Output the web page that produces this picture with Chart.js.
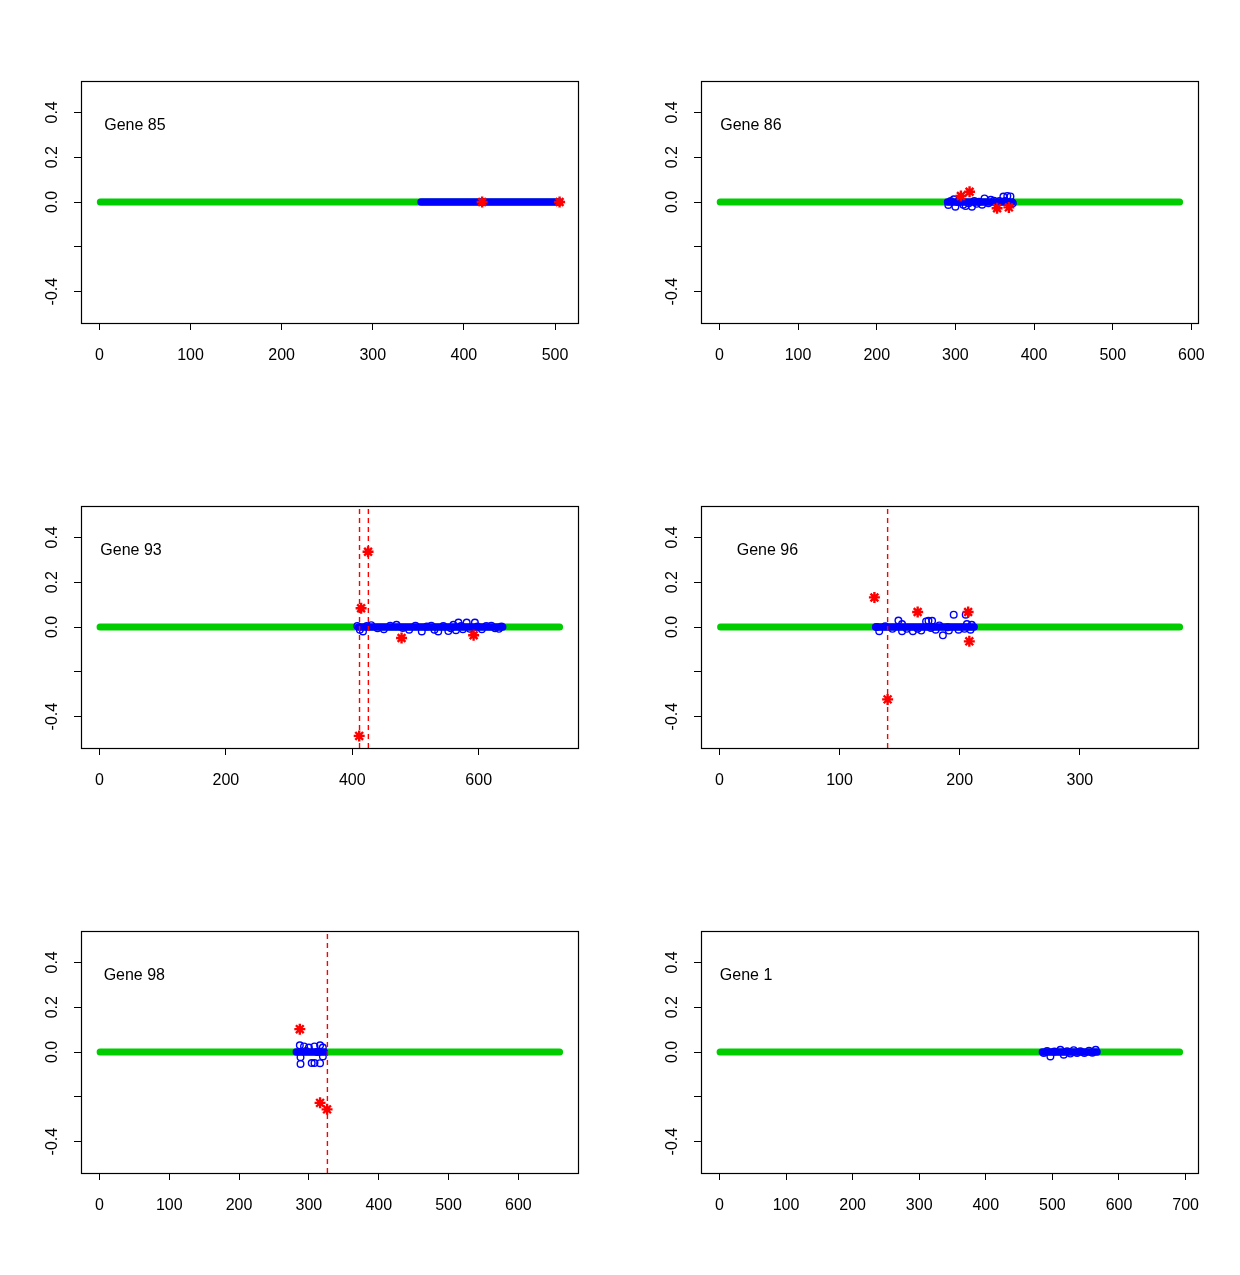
<!DOCTYPE html>
<html>
<head>
<meta charset="utf-8">
<script src="https://cdn.jsdelivr.net/npm/chart.js@4.4.1/dist/chart.umd.min.js"></script>
<style>
  html, body { margin: 0; padding: 0; background: #ffffff; }
  body { width: 1240px; height: 1275px; position: relative; overflow: hidden; }
  .panel { position: absolute; width: 620px; height: 425px; }
  canvas { display: block; }
</style>
</head>
<body>
<div id="wrap"></div>
<script>
// ---------------- DATA ----------------
const geneNames   = ['Gene 85', 'Gene 86', 'Gene 93', 'Gene 96', 'Gene 98', 'Gene 1'];
const geneLengths = [505, 585, 728, 383, 659, 691];

const xTicks85 = [0, 100, 200, 300, 400, 500];
const xTicks86 = [0, 100, 200, 300, 400, 500, 600];
const xTicks93 = [0, 200, 400, 600];
const xTicks96 = [0, 100, 200, 300];
const xTicks98 = [0, 100, 200, 300, 400, 500, 600];
const xTicks1  = [0, 100, 200, 300, 400, 500, 600, 700];

const yTicks      = [-0.4, -0.2, 0.0, 0.2, 0.4];
const yTickLabels = ['-0.4', '', '0.0', '0.2', '0.4'];

// green = whole gene (start, end); blue = covered region (start, end)
const greenRanges = [[1, 505], [1, 585], [1, 728], [1, 383], [1, 659], [1, 691]];
const blueRanges  = [[353, 505], [290, 372], [410, 638], [130, 212], [282, 322], [485, 567]];

// blue open circles (position, value)
const blue85 = [];
const blue86 = [[291, -0.013], [294, 0.004], [298, 0.012], [300, -0.021], [303, 0.0], [306, 0.006],
                [310, -0.012], [313, -0.018], [317, -0.006], [321, -0.021], [324, 0.004], [327, -0.008],
                [330, 0.001], [334, -0.012], [337, 0.016], [342, -0.006], [345, 0.01], [349, 0.006],
                [356, 0.004], [361, 0.024], [363, 0.004], [366, 0.027], [370, 0.025], [373, -0.006]];
const blue93 = [[408, 0.005], [412, -0.012], [417, -0.02], [423, 0.004], [430, 0.008], [440, -0.006],
                [450, -0.01], [460, 0.006], [470, 0.01], [480, -0.004], [490, -0.012], [500, 0.006],
                [510, -0.02], [518, 0.002], [525, 0.006], [530, -0.012], [536, -0.02], [544, 0.004],
                [552, -0.018], [556, -0.006], [560, 0.01], [564, -0.014], [568, 0.02], [572, 0.004],
                [575, -0.01], [581, 0.02], [586, -0.008], [594, 0.02], [598, 0.002], [605, -0.01],
                [612, 0.004], [620, 0.006], [626, -0.006], [632, -0.008], [636, 0.002]];
const blue96 = [[131, 0.0], [133, -0.019], [138, 0.003], [144, -0.008], [149, 0.029], [152, 0.013],
                [152, -0.019], [156, -0.008], [161, -0.019], [165, -0.008], [168, -0.016], [172, 0.025],
                [174, 0.028], [176, -0.004], [177, 0.028], [180, -0.012], [183, 0.007], [186, -0.037],
                [190, -0.001], [191, -0.016], [195, 0.055], [199, -0.012], [204, -0.008], [205, 0.055],
                [206, 0.013], [209, -0.012], [210, 0.01]];
const blue98 = [[287, 0.03], [288, -0.023], [288, -0.053], [293, 0.025], [296, 0.005], [300, 0.02],
                [304, -0.049], [308, 0.025], [308, -0.049], [312, 0.0], [316, 0.03], [316, -0.05],
                [320, -0.02], [320, 0.02]];
const blue1  = [[487, -0.004], [492, 0.004], [497, -0.02], [503, 0.002], [512, 0.01], [517, -0.012],
                [522, 0.003], [527, -0.007], [532, 0.008], [537, -0.004], [542, 0.003], [548, -0.005],
                [555, 0.006], [560, -0.003], [565, 0.01]];

// red stars (position, value)
const red85 = [[420, 0.0], [505, 0.0]];
const red86 = [[307, 0.027], [318, 0.046], [353, -0.028], [368, -0.024]];
const red93 = [[411, -0.486], [414, 0.084], [425, 0.336], [478, -0.049], [592, -0.037]];
const red96 = [[129, 0.132], [140, -0.323], [165, 0.067], [207, 0.067], [208, -0.064]];
const red98 = [[287, 0.102], [316, -0.227], [326, -0.256]];
const red1  = [];

// vertical dashed cut lines (positions)
const cuts85 = [];
const cuts86 = [];
const cuts93 = [411.5, 425.5];
const cuts96 = [140];
const cuts98 = [326.5];
const cuts1  = [];

// label anchor (data coordinates)
const labelXs = [39, 40, 50, 40, 50, 40];
const labelY  = 0.342;

// --------------- CONFIG ----------------
const xTickSets = [xTicks85, xTicks86, xTicks93, xTicks96, xTicks98, xTicks1];
const blueSets  = [blue85, blue86, blue93, blue96, blue98, blue1];
const redSets   = [red85, red86, red93, red96, red98, red1];
const cutSets   = [cuts85, cuts86, cuts93, cuts96, cuts98, cuts1];

const FONT = '"Liberation Sans", Arial, Helvetica, sans-serif';
const Y_MIN = -0.54, Y_MAX = 0.54;
const toPts = arr => arr.map(p => ({ x: p[0], y: p[1] }));

const boxPlugin = {
  id: 'boxAndLabel',
  afterDraw(chart, args, opts) {
    const { ctx, chartArea: a, scales } = chart;
    ctx.save();
    ctx.strokeStyle = '#000';
    ctx.lineWidth = 1.2;
    ctx.strokeRect(Math.round(a.left) + 0.5, Math.round(a.top) + 0.5,
                   Math.round(a.right - a.left), Math.round(a.bottom - a.top));
    ctx.fillStyle = '#000';
    ctx.font = '16px ' + FONT;
    ctx.textAlign = 'center';
    ctx.textBaseline = 'middle';
    ctx.fillText(opts.text, scales.x.getPixelForValue(opts.lx), scales.y.getPixelForValue(opts.ly));
    ctx.restore();
  }
};

const wrap = document.getElementById('wrap');

for (let i = 0; i < 6; i++) {
  const D = geneLengths[i];
  const div = document.createElement('div');
  div.className = 'panel';
  div.style.left = ((i % 2) * 620) + 'px';
  div.style.top = (Math.floor(i / 2) * 425) + 'px';
  const cv = document.createElement('canvas');
  cv.width = 620; cv.height = 425;
  cv.style.width = '620px'; cv.style.height = '425px';
  div.appendChild(cv);
  wrap.appendChild(div);

  const datasets = [];
  const g = greenRanges[i], b = blueRanges[i];
  datasets.push({
    data: [{ x: g[0], y: 0 }, { x: g[1], y: 0 }], showLine: true,
    borderColor: '#00CD00', borderWidth: 7, borderCapStyle: 'round',
    pointRadius: 0, order: 6
  });
  datasets.push({
    data: [{ x: b[0], y: 0 }, { x: b[1], y: 0 }], showLine: true,
    borderColor: '#0000FF', borderWidth: 7.5, borderCapStyle: 'round',
    pointRadius: 0, order: 5
  });
  datasets.push({
    data: toPts(blueSets[i]), showLine: false,
    pointStyle: 'circle', pointRadius: 3.3, pointBorderWidth: 1.4,
    pointBorderColor: '#0000FF', pointBackgroundColor: 'rgba(0,0,0,0)', order: 4
  });
  datasets.push({
    data: toPts(redSets[i]), showLine: false,
    pointStyle: 'star', pointRadius: 5.5, pointBorderWidth: 2.4,
    pointBorderColor: '#FF0000', pointBackgroundColor: '#FF0000', order: 3
  });
  cutSets[i].forEach(c => {
    datasets.push({
      data: [{ x: c, y: Y_MIN }, { x: c, y: Y_MAX }], showLine: true,
      borderColor: '#FF0000', borderWidth: 1.4, borderDash: [5, 4],
      pointRadius: 0, order: 1
    });
  });

  const xt = xTickSets[i];
  new Chart(cv, {
    type: 'scatter',
    data: { datasets },
    options: {
      responsive: false,
      animation: false,
      devicePixelRatio: 1,
      events: [],
      layout: { padding: { top: 81, right: 42, left: 0, bottom: 0 } },
      plugins: {
        legend: { display: false },
        tooltip: { enabled: false },
        boxAndLabel: { text: geneNames[i], lx: labelXs[i], ly: labelY }
      },
      scales: {
        x: {
          type: 'linear', position: 'bottom',
          min: -0.04 * D, max: 1.04 * D,
          afterBuildTicks: s => { s.ticks = xt.map(v => ({ value: v })); },
          afterFit: s => { s.height = 102; },
          border: { display: false },
          grid: { drawOnChartArea: false, drawTicks: true, tickLength: 7, color: '#000', lineWidth: 1 },
          ticks: { color: '#000', font: { family: FONT, size: 16 }, padding: 16,
                   autoSkip: false, maxRotation: 0, minRotation: 0,
                   callback: v => String(v) }
        },
        y: {
          type: 'linear', position: 'left',
          min: Y_MIN, max: Y_MAX,
          afterBuildTicks: s => { s.ticks = yTicks.map(v => ({ value: v })); },
          afterFit: s => { s.width = 81; },
          border: { display: false },
          grid: { drawOnChartArea: false, drawTicks: true, tickLength: 7, color: '#000', lineWidth: 1 },
          ticks: { color: '#000', font: { family: FONT, size: 16 }, padding: 8,
                   autoSkip: false, minRotation: 90, maxRotation: 90, crossAlign: 'center',
                   callback: (v) => {
                     const k = yTicks.findIndex(t => Math.abs(t - v) < 1e-9);
                     return k >= 0 ? yTickLabels[k] : '';
                   } }
        }
      }
    },
    plugins: [boxPlugin]
  });
}
</script>
</body>
</html>
